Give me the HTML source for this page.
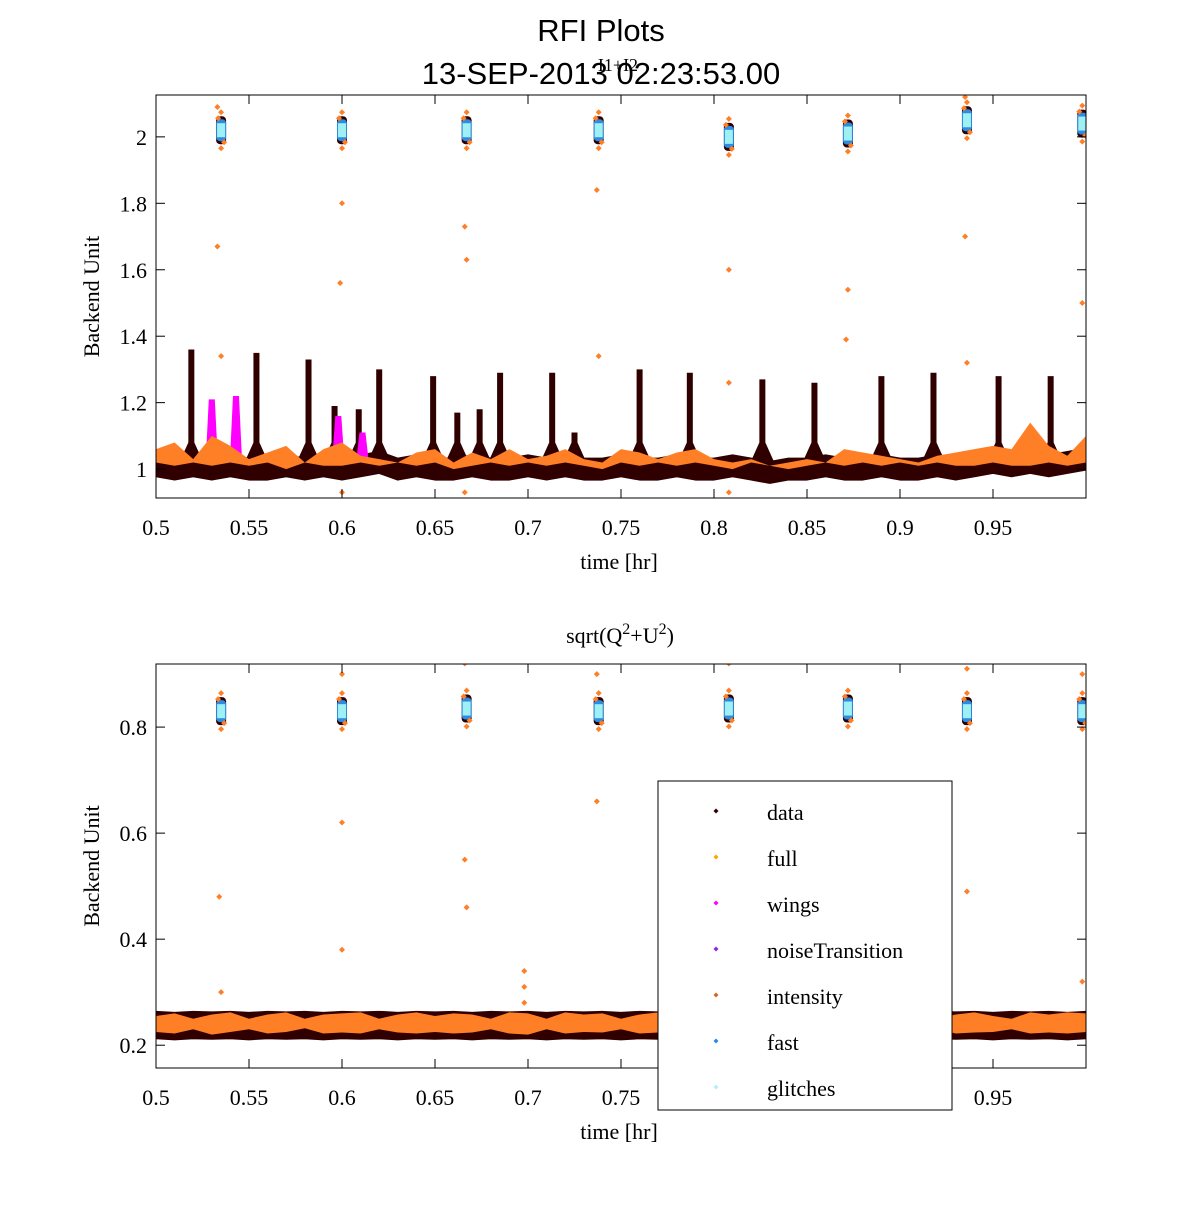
<!DOCTYPE html>
<html><head><meta charset="utf-8"><style>
body{margin:0;background:#fff}
svg text{font-family:"Liberation Serif",serif;fill:#000}
</style></head><body>
<svg id="c" width="1200" height="1200" xmlns="http://www.w3.org/2000/svg">
<rect width="1200" height="1200" fill="#fff"/>
<text x="601" y="41" font-size="31" text-anchor="middle" style="font-family:'Liberation Sans',sans-serif">RFI Plots</text>
<text x="618" y="71" font-size="18" text-anchor="middle">I1+I2</text>
<text x="601" y="84" font-size="31" text-anchor="middle" style="font-family:'Liberation Sans',sans-serif">13-SEP-2013 02:23:53.00</text>
<g id="p1"></g>
<g id="p2"></g>
</svg>
<script>
// time samples for bands (hr)
const bandT = [0.5,0.51,0.52,0.53,0.54,0.55,0.56,0.57,0.58,0.59,0.6,0.61,0.62,0.63,0.64,0.65,0.66,0.67,0.68,0.69,0.7,0.71,0.72,0.73,0.74,0.75,0.76,0.77,0.78,0.79,0.8,0.81,0.82,0.83,0.84,0.85,0.86,0.87,0.88,0.89,0.9,0.91,0.92,0.93,0.94,0.95,0.96,0.97,0.98,0.99,1.0];
// top panel (I1+I2)
const topDark = [1.01,1.0,1.01,1.0,1.01,1.0,1.0,1.01,1.0,1.01,1.0,1.01,1.02,1.0,1.01,1.0,1.0,1.01,1.0,1.0,1.01,1.0,1.01,1.0,1.0,1.01,1.0,1.0,1.01,1.0,1.0,1.01,1.0,0.99,1.0,1.0,1.01,1.0,1.0,1.01,1.0,1.0,1.01,1.0,1.01,1.02,1.01,1.02,1.01,1.02,1.03];
const topOrange = [1.06,1.08,1.03,1.1,1.07,1.03,1.05,1.07,1.02,1.06,1.08,1.04,1.03,1.02,1.05,1.06,1.02,1.05,1.03,1.06,1.03,1.04,1.06,1.03,1.02,1.06,1.05,1.03,1.05,1.06,1.03,1.02,1.03,1.01,1.02,1.03,1.02,1.06,1.05,1.04,1.03,1.02,1.04,1.05,1.06,1.07,1.06,1.14,1.07,1.04,1.1];
const topOrangeLo = [1.02,1.01,1.02,1.01,1.02,1.01,1.02,1.0,1.02,1.01,1.01,1.02,1.01,1.02,1.01,1.02,1.0,1.01,1.02,1.01,1.02,1.01,1.02,1.01,1.0,1.02,1.01,1.02,1.01,1.02,1.01,1.0,1.02,1.01,1.0,1.01,1.02,1.01,1.02,1.01,1.02,1.01,1.02,1.01,1.01,1.02,1.01,1.01,1.02,1.01,1.02];
const topSpikeT = [0.519,0.554,0.582,0.596,0.609,0.62,0.649,0.662,0.674,0.685,0.713,0.725,0.76,0.787,0.826,0.854,0.89,0.918,0.953,0.981];
const topSpikeV = [1.36,1.35,1.33,1.19,1.18,1.3,1.28,1.17,1.18,1.29,1.29,1.11,1.3,1.29,1.27,1.26,1.28,1.29,1.28,1.28];
const topMagT = [0.53,0.543,0.598,0.611];
const topMagV = [1.21,1.22,1.16,1.11];
const calT = [0.535,0.6,0.667,0.738,0.808,0.872,0.936,0.998];
const topCalV = [2.02,2.02,2.02,2.02,2.0,2.01,2.05,2.04];
const topStrayT = [0.533,0.535,0.6,0.599,0.666,0.667,0.737,0.738,0.808,0.808,0.872,0.871,0.935,0.936,0.998,0.6,0.666,0.808,0.935,0.533];
const topStrayV = [1.67,1.34,1.8,1.56,1.73,1.63,1.84,1.34,1.6,1.26,1.54,1.39,1.7,1.32,1.5,0.93,0.93,0.93,2.12,2.09];
const topYTicks = [1,1.2,1.4,1.6,1.8,2];
// bottom panel sqrt(Q^2+U^2)
const botDark = [0.238,0.236,0.238,0.237,0.238,0.236,0.238,0.237,0.238,0.236,0.238,0.237,0.238,0.236,0.238,0.237,0.238,0.236,0.238,0.237,0.238,0.236,0.238,0.237,0.238,0.236,0.238,0.237,0.238,0.236,0.238,0.237,0.238,0.236,0.238,0.237,0.238,0.236,0.238,0.237,0.238,0.236,0.238,0.237,0.238,0.236,0.238,0.237,0.238,0.236,0.238];
const botOrange = [0.255,0.26,0.25,0.258,0.262,0.25,0.258,0.262,0.25,0.258,0.26,0.262,0.25,0.258,0.262,0.255,0.26,0.258,0.25,0.262,0.26,0.25,0.262,0.258,0.26,0.25,0.258,0.262,0.255,0.25,0.258,0.262,0.255,0.25,0.258,0.262,0.255,0.26,0.25,0.258,0.262,0.255,0.25,0.258,0.262,0.255,0.25,0.262,0.258,0.262,0.26];
const botOrangeLo = [0.225,0.222,0.23,0.22,0.225,0.23,0.222,0.225,0.232,0.222,0.224,0.222,0.23,0.224,0.222,0.225,0.222,0.224,0.23,0.222,0.22,0.23,0.222,0.225,0.224,0.23,0.222,0.224,0.225,0.23,0.222,0.224,0.225,0.23,0.222,0.224,0.225,0.224,0.23,0.222,0.224,0.225,0.23,0.222,0.224,0.225,0.23,0.222,0.224,0.222,0.225];
const botCalV = [0.83,0.83,0.835,0.83,0.835,0.835,0.83,0.83];
const botStrayT = [0.534,0.535,0.6,0.6,0.666,0.667,0.737,0.936,0.998,0.6,0.737,0.666,0.808,0.936,0.998,0.698,0.698,0.698];
const botStrayV = [0.48,0.30,0.62,0.38,0.55,0.46,0.66,0.49,0.32,0.9,0.9,0.92,0.92,0.91,0.9,0.34,0.31,0.28];
const botYTicks = [0.2,0.4,0.6,0.8];
const xTicks = [0.5,0.55,0.6,0.65,0.7,0.75,0.8,0.85,0.9,0.95];

const NS="http://www.w3.org/2000/svg";
function mk(p,tag,at){const e=document.createElementNS(NS,tag);for(const k in at)e.setAttribute(k,at[k]);p.appendChild(e);return e;}
function diamond(g,x,y,r,c){return mk(g,'path',{d:`M${x-r},${y}L${x},${y-r}L${x+r},${y}L${x},${y+r}Z`,fill:c});}

function panel(g,cfg){
  const L=156,R=1086,T=cfg.top,B=cfg.bot;
  const sx=t=>L+(t-0.5)/0.5*(R-L);
  const sy=v=>B-(v-cfg.ymin)/(cfg.ymax-cfg.ymin)*(B-T);
  const clip='cl'+cfg.id;
  const cp=mk(g,'clipPath',{id:clip});mk(cp,'rect',{x:L,y:T,width:R-L,height:B-T});
  const d=mk(g,'g',{'clip-path':`url(#${clip})`});
  // dark band
  let up=bandT.map((t,i)=>`${sx(t)},${sy(cfg.dark[i]+cfg.dh)}`);
  let lo=bandT.map((t,i)=>`${sx(t)},${sy(cfg.dark[i]-cfg.dh)}`).reverse();
  const db=mk(d,'polygon',{points:up.concat(lo).join(' '),fill:'#300000',stroke:'#300000','stroke-width':3,'stroke-linejoin':'round'});
  
  
  // dark spikes
  (cfg.spT||[]).forEach((t,i)=>{const x=sx(t),yt=sy(cfg.spV[i]),yb=sy(1.02),ym=sy(1.08);
    const s=mk(d,'path',{d:`M${x-3},${yt}L${x+3},${yt}L${x+3},${ym}L${x+12},${yb}L${x-12},${yb}L${x-3},${ym}Z`,fill:'#300000'});
    
    });
  (cfg.mT||[]).forEach((t,i)=>{const s=mk(d,'path',{d:`M${sx(t)-6},${sy(1.03)}L${sx(t)-3},${sy(cfg.mV[i])}L${sx(t)+3},${sy(cfg.mV[i])}L${sx(t)+6},${sy(1.03)}Z`,fill:'#ff00ff'});
    
    });
  // orange band
  up=bandT.map((t,i)=>`${sx(t)},${sy(cfg.or[i])}`);
  lo=bandT.map((t,i)=>`${sx(t)},${sy(cfg.olo[i])}`).reverse();
  const ob=mk(d,'polygon',{points:up.concat(lo).join(' '),fill:'#ff7f27'});
  
  
  // cal clusters
  calT.forEach((t,i)=>{const v=cfg.cal[i];const x=sx(t),y=sy(v);
    const cg=mk(d,'g',{});
    
    
    mk(cg,'rect',{x:x-5,y:y-14,width:10,height:28,rx:4,fill:'#300000'});
    mk(cg,'rect',{x:x-5,y:y-11,width:10,height:22,rx:4,fill:'#2d8ce0'});
    mk(cg,'rect',{x:x-4,y:y-7,width:8,height:14,fill:'#9ff0f5'});
    diamond(cg,x-3,y-12,3,'#ff7f27');diamond(cg,x+3,y+12,3,'#ff7f27');diamond(cg,x,y-18,3,'#ff7f27');diamond(cg,x,y+18,3,'#ff7f27');});
  cfg.sT.forEach((t,i)=>{const p=diamond(d,sx(t),sy(cfg.sV[i]),3,'#ff7f27');
    
    });
  // axes box
  mk(g,'rect',{x:L,y:T,width:R-L,height:B-T,fill:'none',stroke:'#000','stroke-width':1});
  xTicks.forEach(t=>{const x=sx(t);mk(g,'line',{x1:x,x2:x,y1:B,y2:B-9,stroke:'#000'});mk(g,'line',{x1:x,x2:x,y1:T,y2:T+9,stroke:'#000'});
    const tx=mk(g,'text',{x:x,y:B+37,'font-size':22,'text-anchor':'middle'});tx.textContent=String(t);
    
    });
  cfg.yt.forEach(v=>{const y=sy(v);mk(g,'line',{x1:L,x2:L+9,y1:y,y2:y,stroke:'#000'});mk(g,'line',{x1:R,x2:R-9,y1:y,y2:y,stroke:'#000'});
    const tx=mk(g,'text',{x:L-9,y:y+8,'font-size':22,'text-anchor':'end'});tx.textContent=String(v);
    
    });
  const xl=mk(g,'text',{x:619,y:B+71,'font-size':22,'text-anchor':'middle'});xl.textContent='time [hr]';
  
  
  const yl=mk(g,'text',{x:0,y:0,'font-size':22,'text-anchor':'middle',transform:`translate(99,${(T+B)/2}) rotate(-90)`});yl.textContent='Backend Unit';
  
  
}
panel(document.getElementById('p1'),{id:1,top:95,bot:498,ymin:0.913,ymax:2.126,dark:topDark,dh:0.03,or:topOrange,olo:topOrangeLo,spT:topSpikeT,spV:topSpikeV,mT:topMagT,mV:topMagV,cal:topCalV,sT:topStrayT,sV:topStrayV,yt:topYTicks});
panel(document.getElementById('p2'),{id:2,top:664,bot:1068,ymin:0.157,ymax:0.919,dark:botDark,dh:0.024,or:botOrange,olo:botOrangeLo,cal:botCalV,sT:botStrayT,sV:botStrayV,yt:botYTicks});
// bottom title
const p2=document.getElementById('p2');
const bt=mk(p2,'text',{x:620,y:643,'font-size':22,'text-anchor':'middle'});
bt.innerHTML='sqrt(Q<tspan dy="-9" font-size="16">2</tspan><tspan dy="9">+U</tspan><tspan dy="-9" font-size="16">2</tspan><tspan dy="9">)</tspan>';


// legend
const legNames=['data','full','wings','noiseTransition','intensity','fast','glitches'];
const legColors=['#300000','#ffa500','#ff00ff','#8a2be2','#d2691e','#2d8ce0','#b0f0f5'];
const lg=mk(document.getElementById('c'),'g',{});


mk(lg,'rect',{x:658,y:781,width:294,height:329,fill:'#fff',stroke:'#000'});
legNames.forEach((n,i)=>{const y=812+i*46;
  const e=mk(lg,'g',{});
  
  
  diamond(e,716,y-1,2.5,legColors[i]);
  const t=mk(e,'text',{x:767,y:y+8,'font-size':22});t.textContent=n;});
</script>
</body></html>
